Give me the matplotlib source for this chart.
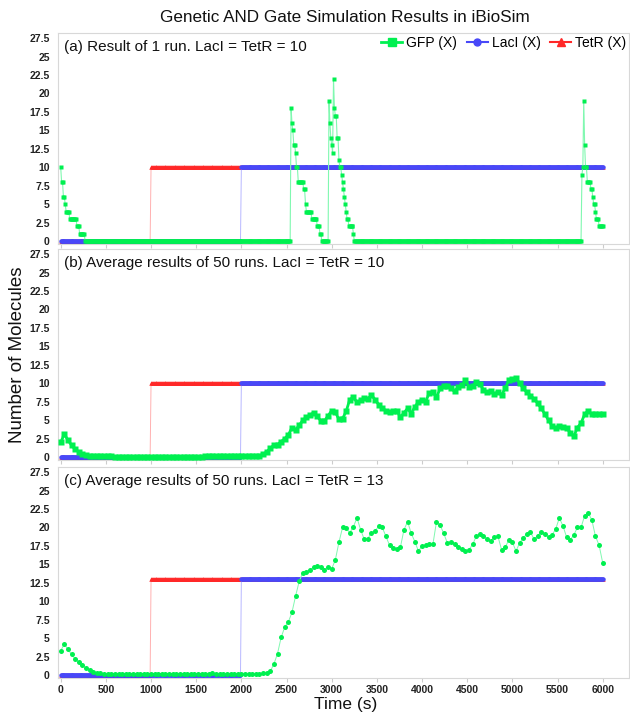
import numpy as np
import matplotlib
matplotlib.use("Agg")
import matplotlib.pyplot as plt
from matplotlib.lines import Line2D

plt.rcParams["font.family"] = ["Liberation Sans", "DejaVu Sans"]

# (a) single run: GFP count from each event time on (held until next event)
run_event_t = [0, 10, 30, 50, 60, 100, 180, 210, 270,
               2550, 2560, 2570, 2580, 2600, 2610, 2630, 2690, 2710, 2720, 2780, 2840, 2870, 2890,
               2970, 2980, 2990, 3000, 3010, 3020, 3030, 3040, 3060, 3080, 3090, 3110, 3120, 3130,
               3140, 3150, 3160, 3170, 3190, 3240, 3250,
               5770, 5780, 5790, 5800, 5810, 5830, 5870, 5890, 5900, 5920, 5930, 5960]
run_event_gfp = [10, 8, 6, 5, 4, 3, 2, 1, 0,
                 18, 16, 15, 13, 12, 10, 8, 7, 5, 4, 3, 2, 1, 0,
                 19, 16, 14, 13, 12, 22, 18, 17, 14, 11, 10, 9, 8, 7,
                 6, 5, 4, 3, 2, 1, 0,
                 9, 10, 19, 13, 10, 8, 7, 6, 5, 4, 3, 2]
run_step = 10  # print interval of the single run (s)

# (b) average of 50 runs, inputs = 10, GFP every 40 s from 0 to 6000
avg_step = 40
gfp_b = [2.0, 3.1, 2.3, 1.6, 1.05, 0.7, 0.42, 0.27, 0.2, 0.14,
         0.12, 0.11, 0.1, 0.09, 0.08, 0.07, 0.06, 0.06, 0.05, 0.05,
         0.05, 0.05, 0.05, 0.05, 0.05, 0.05, 0.05, 0.05, 0.05, 0.05,
         0.05, 0.05, 0.05, 0.05, 0.05, 0.05, 0.05, 0.05, 0.06, 0.07,
         0.08, 0.1, 0.12, 0.15, 0.18, 0.2, 0.18, 0.16, 0.14, 0.13,
         0.14, 0.12, 0.15, 0.14, 0.17, 0.2, 0.4, 0.7, 1.2, 1.6,
         1.7, 2.1, 2.5, 3.0, 4.0, 3.7, 4.3, 5.0, 5.4, 5.7,
         6.0, 5.5, 4.9, 4.9, 5.6, 6.3, 6.1, 5.1, 5.2, 6.2,
         7.8, 8.1, 7.4, 7.7, 8.0, 7.9, 8.4, 7.8, 7.1, 6.6,
         6.3, 6.1, 6.3, 6.3, 5.4, 6.0, 6.6, 5.9, 6.8, 7.5,
         7.7, 7.5, 8.7, 8.8, 8.1, 9.3, 9.6, 9.6, 9.3, 8.9,
         9.5, 9.7, 10.4, 9.5, 9.6, 10.2, 9.9, 9.1, 8.8, 8.9,
         8.6, 8.8, 8.4, 9.3, 10.4, 10.6, 10.7, 10.0, 9.3, 8.8,
         8.3, 7.9, 7.3, 6.6, 5.8, 5.0, 4.2, 4.0, 4.2, 4.1,
         4.0, 3.3, 2.8, 4.0, 4.6, 5.8, 6.3, 5.8, 5.9, 5.8,
         5.8]

# (c) average of 50 runs, inputs = 13
gfp_c = [3.3, 4.2, 3.5, 2.8, 2.2, 1.75, 1.3, 0.95, 0.68, 0.48,
         0.32, 0.26, 0.2, 0.17, 0.15, 0.13, 0.12, 0.11, 0.1, 0.1,
         0.09, 0.09, 0.08, 0.08, 0.08, 0.08, 0.08, 0.08, 0.08, 0.08,
         0.08, 0.08, 0.08, 0.08, 0.08, 0.08, 0.08, 0.09, 0.1, 0.12,
         0.15, 0.2, 0.23, 0.2, 0.18, 0.18, 0.17, 0.18, 0.18, 0.17,
         0.15, 0.14, 0.13, 0.14, 0.14, 0.18, 0.23, 0.3, 0.5, 1.5,
         2.9, 5.1, 6.5, 7.2, 8.5, 10.7, 12.7, 13.9, 14.0, 14.3,
         14.6, 14.8, 14.7, 14.3, 14.6, 14.4, 15.6, 18.0, 20.0, 19.9,
         19.3, 20.1, 21.3, 19.7, 18.4, 18.5, 19.3, 19.5, 20.2, 20.0,
         18.8, 17.6, 17.2, 17.1, 17.3, 19.7, 20.8, 19.2, 18.1, 16.8,
         17.5, 17.6, 17.7, 17.7, 20.8, 20.3, 19.2, 17.9, 18.0, 17.7,
         17.4, 17.1, 16.8, 17.0, 17.7, 18.8, 19.1, 18.9, 18.4, 18.2,
         18.7, 18.8, 17.0, 17.3, 18.3, 18.0, 16.8, 17.9, 18.6, 19.1,
         19.4, 18.4, 18.9, 19.4, 19.1, 18.7, 19.0, 19.8, 21.3, 20.2,
         18.7, 18.3, 19.0, 20.0, 20.0, 21.6, 22.0, 21.0, 18.8, 17.6,
         15.2]

# inputs: switched on at these times, to these levels
tetr_on = 1000
laci_on = 2000
input_levels = [10, 10, 13]

panel_titles = ["(a) Result of 1 run. LacI = TetR = 10",
                "(b) Average results of 50 runs. LacI = TetR = 10",
                "(c) Average results of 50 runs. LacI = TetR = 13"]

GREEN = "#00f050"
GREEN_L = "#80f8b0"
BLUE = "#4848f8"
BLUE_L = "#b8b8ff"
RED = "#ff2828"
RED_L = "#ffb0b0"

t_end = 6000
t_run = np.arange(0, t_end + 1, run_step)
gfp_a = np.array(run_event_gfp)[np.searchsorted(run_event_t, t_run, side="right") - 1]
t_avg = np.arange(len(gfp_b)) * avg_step

W, H = 630, 712
fig = plt.figure(figsize=(W / 100, H / 100), dpi=100)
tops = [33, 249, 467]
bottoms = [244, 460, 678]

for i in range(3):
    ax = fig.add_axes([58 / W, 1 - bottoms[i] / H, 571 / W, (bottoms[i] - tops[i]) / H])
    level = input_levels[i]
    tetr = np.where(t_run >= tetr_on, level, 0)
    laci = np.where(t_run >= laci_on, level, 0)
    ax.plot(t_run, tetr, color=RED_L, lw=0.7, zorder=1)
    ax.plot(t_run, tetr, ls="none", marker="^", ms=3.2, color=RED, mec="none", zorder=2)
    ax.plot(t_run, laci, color=BLUE_L, lw=0.7, zorder=3)
    ax.plot(t_run, laci, ls="none", marker="o", ms=3.2, color=BLUE, mec="none", zorder=4)

    if i == 0:
        ax.plot(t_run, gfp_a, color=GREEN_L, lw=0.8, zorder=5)
        ax.plot(t_run, gfp_a, ls="none", marker="s", ms=3.4, color=GREEN, mec="none", zorder=6)
    elif i == 1:
        ax.plot(t_avg, gfp_b, color=GREEN, lw=2.0, zorder=5)
        ax.plot(t_avg, gfp_b, ls="none", marker="s", ms=4.2, color=GREEN, mec="none", zorder=6)
    else:
        ax.plot(t_avg, gfp_c, color=GREEN_L, lw=0.7, zorder=5)
        ax.plot(t_avg, gfp_c, ls="none", marker="o", ms=3.6, color=GREEN, mec="none", zorder=6)

    ax.set_xlim(-30, 6291)
    ax.set_ylim(-0.4, 28.2)
    yt = np.arange(0, 27.6, 2.5)
    ax.set_yticks(yt)
    ax.set_yticklabels(["%g" % v for v in yt])
    ax.set_xticks(np.arange(0, 6001, 500))
    ax.tick_params(axis="y", length=0, pad=6, labelsize=7.5, labelcolor="#222222")
    ax.tick_params(axis="x", length=3, color="#cccccc", pad=2, labelsize=7.5, labelcolor="#222222")
    for lab in ax.get_xticklabels() + ax.get_yticklabels():
        lab.set_fontweight("bold")
    if i < 2:
        ax.set_xticklabels([])
    for s in ax.spines.values():
        s.set_color("#d8d8d8")
    ax.text(6 / 571, 1 - 14 / 211, panel_titles[i], transform=ax.transAxes,
            fontsize=11, va="center", ha="left", color="#111111")

    if i == 0:
        handles = [Line2D([], [], color=GREEN, marker="s", ms=6, lw=2),
                   Line2D([], [], color=BLUE, marker="o", ms=5, lw=1.5),
                   Line2D([], [], color=RED, marker="^", ms=6, lw=1.5)]
        fig.legend(handles, ["GFP (X)", "LacI (X)", "TetR (X)"], ncol=3,
                   loc="center right", bbox_to_anchor=(632 / W, 1 - 43 / H),
                   frameon=False, fontsize=10, handlelength=1.5,
                   handletextpad=0.3, columnspacing=0.7, borderaxespad=0)

fig.text(345 / W, 1 - 17 / H, "Genetic AND Gate Simulation Results in iBioSim",
         ha="center", va="center", fontsize=12.3, color="#111111")
fig.text(18 / W, 1 - 355 / H, "Number of Molecules", rotation=90,
         ha="center", va="center", fontsize=13.5, color="#111111")
fig.text(346 / W, 1 - 704 / H, "Time (s)", ha="center", va="center",
         fontsize=12.5, color="#111111")

fig.savefig("out.png", dpi=100)
plt.close(fig)
